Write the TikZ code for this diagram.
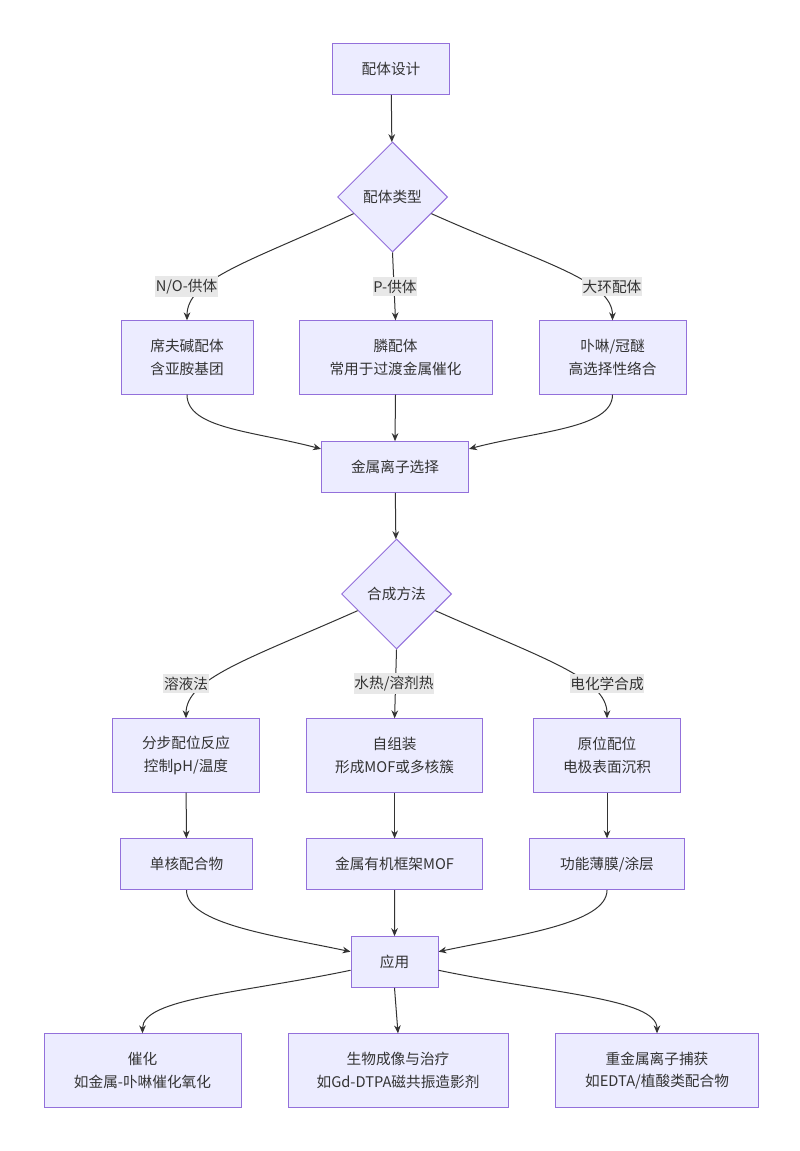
\documentclass[tikz,border=0pt]{standalone}
\usepackage{fontspec}
\setmainfont{Noto Sans CJK SC}
\usetikzlibrary{shapes.geometric,arrows.meta,calc}
\definecolor{boxfill}{HTML}{ECECFF}
\definecolor{boxline}{HTML}{9370DB}
\definecolor{edgecol}{HTML}{333333}
\definecolor{lblfill}{HTML}{E8E8E8}

\begin{document}
\begin{tikzpicture}[x=0.75pt,y=-0.75pt,
    box/.style={draw=boxline, fill=boxfill, line width=0.75pt, align=center, inner sep=0pt, text=edgecol, font=\fontsize{11}{17}\selectfont},
    dia/.style={box, shape=diamond, minimum width=82.5pt, minimum height=82.5pt},
    lbl/.style={fill=lblfill, inner xsep=0.5pt, inner ysep=2pt, text=edgecol, font=\fontsize{11}{17}\selectfont},
    link/.style={draw=edgecol, line width=0.75pt, -{Stealth[length=6pt,width=5pt]}}]
    \useasboundingbox (0,0) rectangle (799,1151);

    % ligand design
    \node[box, minimum width=87.75pt, minimum height=38pt] (design) at (391,69) {配体设计};
    \node[dia] (ltype) at (392.5,197) {配体类型};
    \node[box, minimum width=99pt, minimum height=55pt] (schiff) at (187,357.5) {席夫碱配体\\含亚胺基团};
    \node[box, minimum width=144.75pt, minimum height=55pt] (phos) at (395.5,357.5) {膦配体\\常用于过渡金属催化};
    \node[box, minimum width=110.25pt, minimum height=55pt] (macro) at (612.5,357.5) {卟啉/冠醚\\高选择性络合};
    \node[box, minimum width=110.25pt, minimum height=38pt] (metal) at (395,467) {金属离子选择};

    % synthesis
    \node[dia] (synth) at (396.5,594) {合成方法};
    \node[box, minimum width=110.25pt, minimum height=55pt] (sol) at (186,755.5) {分步配位反应\\控制pH/温度};
    \node[box, minimum width=132pt, minimum height=55pt] (hydro) at (394.6,755.5) {自组装\\形成MOF或多核簇};
    \node[box, minimum width=110.25pt, minimum height=55pt] (elec) at (607,755.5) {原位配位\\电极表面沉积};
    \node[box, minimum width=99pt, minimum height=38pt] (mono) at (186.5,864.3) {单核配合物};
    \node[box, minimum width=132pt, minimum height=38pt] (mof) at (394.6,864.3) {金属有机框架MOF};
    \node[box, minimum width=116.25pt, minimum height=38pt] (film) at (607,864.3) {功能薄膜/涂层};

    % applications
    \node[box, minimum width=65.25pt, minimum height=38pt] (app) at (394.5,962) {应用};
    \node[box, minimum width=147.75pt, minimum height=55pt] (cat) at (142.5,1070.5) {催化\\如金属-卟啉催化氧化};
    \node[box, minimum width=165pt, minimum height=55pt] (bio) at (398,1070.5) {生物成像与治疗\\如Gd-DTPA磁共振造影剂};
    \node[box, minimum width=152.25pt, minimum height=55pt] (heavy) at (657,1070.5) {重金属离子捕获\\如EDTA/植酸类配合物};

    \draw[link] (design) -- (ltype);
    \draw[link] ($(ltype.west)!0.3!(ltype.south)$) .. controls +(-104,48) and +(0,-41) .. (schiff.north);
    \draw[link] (ltype.south) -- (phos.north);
    \draw[link] ($(ltype.east)!0.3!(ltype.south)$) .. controls +(112,50) and +(0,-40) .. (macro.north);
    \draw[link] (schiff.south) .. controls +(0,34) and +(-68,-18) .. ($(metal.north west)!0.15!(metal.south west)$);
    \draw[link] (phos.south) -- (metal.north);
    \draw[link] (macro.south) .. controls +(0,34) and +(68,-18) .. ($(metal.north east)!0.15!(metal.south east)$);

    \draw[link] (metal) -- (synth);
    \draw[link] ($(synth.west)!0.3!(synth.south)$) .. controls +(-108,48) and +(0,-40) .. (sol.north);
    \draw[link] (synth.south) -- (hydro.north);
    \draw[link] ($(synth.east)!0.3!(synth.south)$) .. controls +(108,48) and +(0,-40) .. (elec.north);
    \draw[link] (sol) -- (mono);
    \draw[link] (hydro) -- (mof);
    \draw[link] (elec) -- (film);

    \draw[link] (mono.south) .. controls +(0,34) and +(-75,-16) .. ($(app.north west)!0.3!(app.south west)$);
    \draw[link] (mof) -- (app);
    \draw[link] (film.south) .. controls +(0,34) and +(75,-16) .. ($(app.north east)!0.3!(app.south east)$);
    \draw[link] ($(app.north west)!0.66!(app.south west)$) .. controls +(-110,23) and +(0,-35) .. (cat.north);
    \draw[link] (app.south) -- (bio.north);
    \draw[link] ($(app.north east)!0.66!(app.south east)$) .. controls +(110,23) and +(0,-35) .. (heavy.north);

    % edge labels
    \node[lbl] (lno) at (186.5,286.5) {N/O-供体};
    \node[lbl] (lp) at (395,286.5) {P-供体};
    \node[lbl] (lmac) at (612,286.5) {大环配体};
    \node[lbl] (lsol) at (186,683.5) {溶液法};
    \node[lbl] (lhyd) at (394,683.5) {水热/溶剂热};
    \node[lbl] (lele) at (607,683.5) {电化学合成};
\end{tikzpicture}
\end{document}
